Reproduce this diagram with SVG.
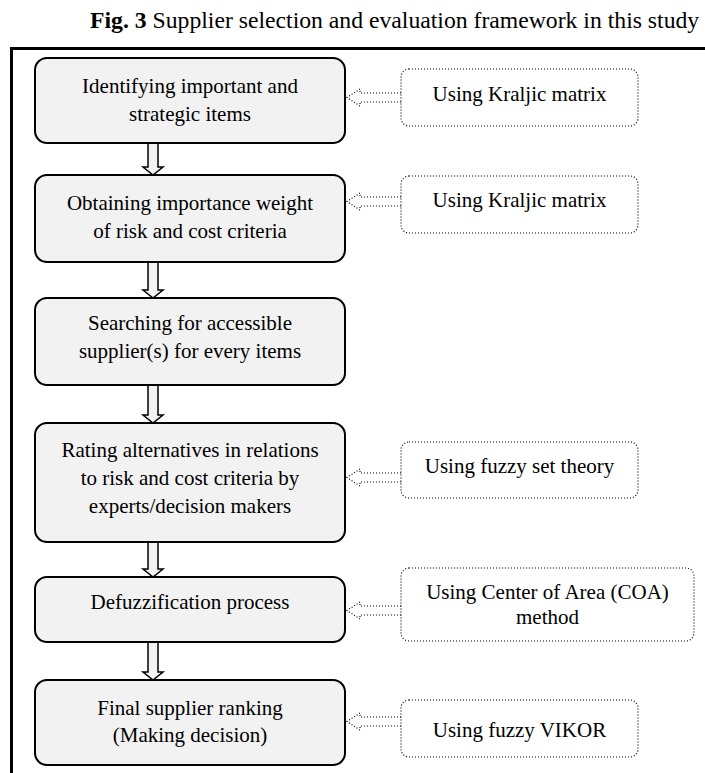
<svg xmlns="http://www.w3.org/2000/svg" width="705" height="773" viewBox="0 0 705 773">
<style>
text{font-family:"Liberation Serif","Times New Roman",serif;fill:#000}
.t{font-size:21px;text-anchor:middle}
.title{font-size:23.7px}
.box{fill:#f2f2f2;stroke:#000;stroke-width:2}
.note{fill:#fff;stroke:#000;stroke-width:1.2;stroke-dasharray:1 2}
.down{fill:#f2f2f2;stroke:#000;stroke-width:1.5}
.left{fill:#fff;stroke:#000;stroke-width:1.2;stroke-dasharray:1 2}
.frame{fill:none;stroke:#000;stroke-width:3}
</style>
<text class="title" x="90" y="28"><tspan font-weight="bold">Fig. 3</tspan> Supplier selection and evaluation framework in this study</text>
<path class="frame" d="M11.5,773 V48.5 H705"/>
<g id="connectors">
<path class="down" d="M148,143 V167 H143 L153,175 L163,167 H158 V143"/>
<path class="down" d="M148,262 V290 H143 L153,298 L163,290 H158 V262"/>
<path class="down" d="M148,385 V415 H143 L153,423 L163,415 H158 V385"/>
<path class="down" d="M148,542 V569 H143 L153,577 L163,569 H158 V542"/>
<path class="down" d="M148,642 V672 H143 L153,680 L163,672 H158 V642"/>
<path class="left" d="M401,93 H360 V89 L347,97.5 L360,106 V102 H401"/>
<path class="left" d="M401,197 H360 V193 L347,201.5 L360,210 V206 H401"/>
<path class="left" d="M401,473 H360 V469 L347,477.5 L360,486 V482 H401"/>
<path class="left" d="M401,606 H360 V602 L347,610.5 L360,619 V615 H401"/>
<path class="left" d="M401,717 H360 V713 L347,721.5 L360,730 V726 H401"/>
</g>
<g id="n1"><rect class="box" x="35" y="58" width="310" height="85" rx="12"/>
<text class="t" x="190" y="93">Identifying important and</text><text class="t" x="190" y="121">strategic items</text></g>
<g id="n2"><rect class="box" x="35" y="175" width="310" height="87" rx="12"/>
<text class="t" x="190" y="210">Obtaining importance weight</text><text class="t" x="190" y="238">of risk and cost criteria</text></g>
<g id="n3"><rect class="box" x="35" y="298" width="310" height="87" rx="12"/>
<text class="t" x="190" y="330">Searching for accessible</text><text class="t" x="190" y="358">supplier(s) for every items</text></g>
<g id="n4"><rect class="box" x="35" y="423" width="310" height="119" rx="12"/>
<text class="t" x="190" y="457">Rating alternatives in relations</text><text class="t" x="190" y="485">to risk and cost criteria by</text><text class="t" x="190" y="513">experts/decision makers</text></g>
<g id="n5"><rect class="box" x="35" y="577" width="310" height="65" rx="12"/>
<text class="t" x="190" y="609">Defuzzification process</text></g>
<g id="n6"><rect class="box" x="35" y="680" width="310" height="85" rx="12"/>
<text class="t" x="190" y="715">Final supplier ranking</text><text class="t" x="190" y="742">(Making decision)</text></g>
<g id="m1"><rect class="note" x="401" y="69" width="237" height="57" rx="8"/>
<text class="t" x="519.5" y="101">Using Kraljic matrix</text></g>
<g id="m2"><rect class="note" x="401" y="176" width="237" height="57" rx="8"/>
<text class="t" x="519.5" y="207">Using Kraljic matrix</text></g>
<g id="m3"><rect class="note" x="401" y="442" width="237" height="56" rx="8"/>
<text class="t" x="519.5" y="473">Using fuzzy set theory</text></g>
<g id="m4"><rect class="note" x="401" y="568" width="293" height="73" rx="8"/>
<text class="t" x="547.5" y="599">Using Center of Area (COA)</text><text class="t" x="547.5" y="624">method</text></g>
<g id="m5"><rect class="note" x="401" y="700" width="237" height="57" rx="8"/>
<text class="t" x="519.5" y="737">Using fuzzy VIKOR</text></g>
</svg>
